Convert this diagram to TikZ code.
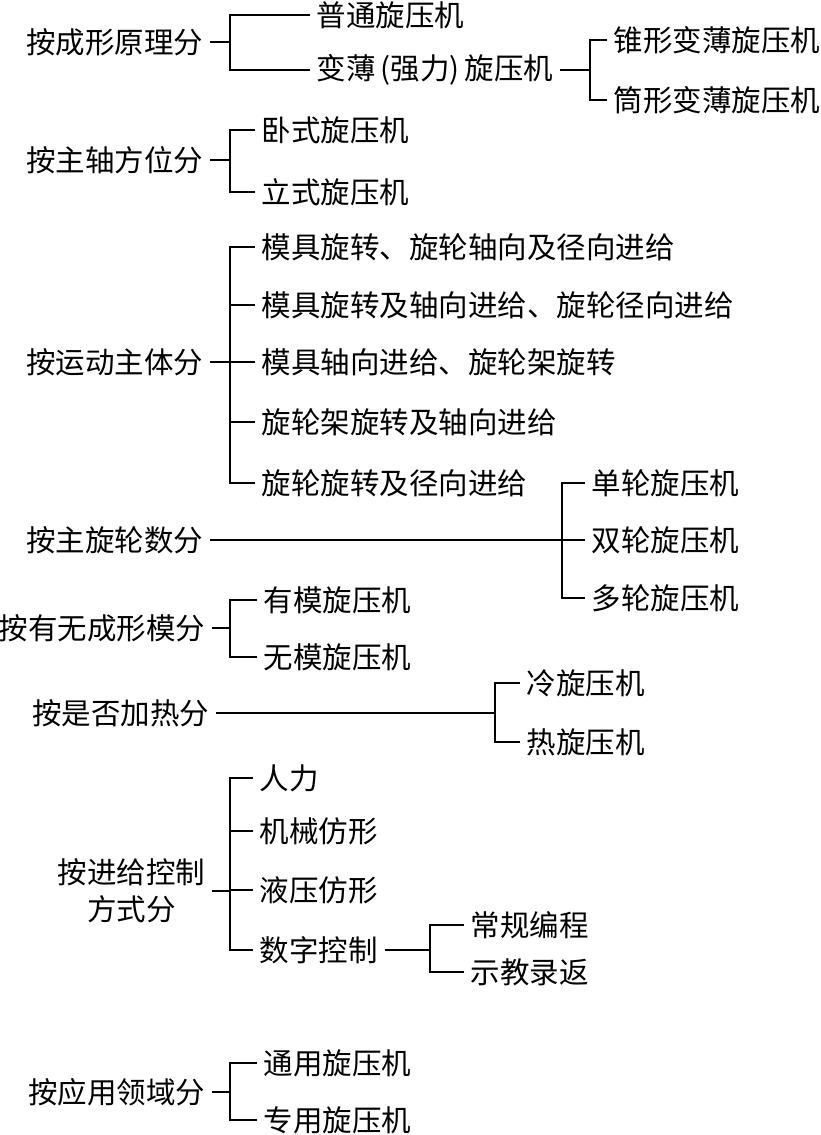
\documentclass[tikz,border=0pt]{standalone}
\usepackage{fontspec}
\newfontfamily\cjk{Noto Sans CJK SC}
\begin{document}
\begin{tikzpicture}[x=1pt, y=-1pt, line width=1.9pt,
        every node/.style={font=\cjk\fontsize{29.5}{37}\selectfont, inner xsep=6pt, inner ysep=2pt},
        root/.style={anchor=east},
        leaf/.style={anchor=west}]
    \useasboundingbox (0,0) rectangle (821,1135);
    % by forming principle
    \node[root] (r1) at (210,42) {按成形原理分};
    \coordinate (s1) at (230,42);
    \node[leaf] (c11) at (310,15) {普通旋压机};
    \node[leaf] (c12) at (310,70) {变薄\,(强力)\,旋压机};
    \coordinate (s12) at (590,70);
    \node[leaf] (c121) at (607,40) {锥形变薄旋压机};
    \node[leaf] (c122) at (607,100) {筒形变薄旋压机};
    \draw (r1.east) -- (s1);
    \draw (c11.west) -| (s1);
    \draw (c12.west) -| (s1);
    \draw (c12.east) -- (s12);
    \draw (c121.west) -| (s12);
    \draw (c122.west) -| (s12);
    % by spindle orientation
    \node[root] (r2) at (210,160) {按主轴方位分};
    \coordinate (s2) at (230,160);
    \node[leaf] (c21) at (255,130) {卧式旋压机};
    \node[leaf] (c22) at (255,192) {立式旋压机};
    \draw (r2.east) -- (s2);
    \draw (c21.west) -| (s2);
    \draw (c22.west) -| (s2);
    % by moving part
    \node[root] (r3) at (210,362) {按运动主体分};
    \coordinate (s3) at (230,362);
    \node[leaf] (c31) at (255,247) {模具旋转、旋轮轴向及径向进给};
    \node[leaf] (c32) at (255,305) {模具旋转及轴向进给、旋轮径向进给};
    \node[leaf] (c33) at (255,362) {模具轴向进给、旋轮架旋转};
    \node[leaf] (c34) at (255,422) {旋轮架旋转及轴向进给};
    \node[leaf] (c35) at (255,483) {旋轮旋转及径向进给};
    \draw (r3.east) -- (s3);
    \foreach \c in {c31,c32,c33,c34,c35}
        \draw (\c.west) -| (s3);
    % by number of rollers
    \node[root] (r4) at (210,540) {按主旋轮数分};
    \coordinate (s4) at (562,540);
    \node[leaf] (c41) at (585,483) {单轮旋压机};
    \node[leaf] (c42) at (585,540) {双轮旋压机};
    \node[leaf] (c43) at (585,598) {多轮旋压机};
    \draw (r4.east) -- (c42.west);
    \draw (c41.west) -| (s4);
    \draw (c43.west) -| (s4);
    % by mandrel
    \node[root] (r5) at (212,628) {按有无成形模分};
    \coordinate (s5) at (230,628);
    \node[leaf] (c51) at (257,600) {有模旋压机};
    \node[leaf] (c52) at (257,657) {无模旋压机};
    \draw (r5.east) -- (s5);
    \draw (c51.west) -| (s5);
    \draw (c52.west) -| (s5);
    % by heating
    \node[root] (r6) at (216,713) {按是否加热分};
    \coordinate (s6) at (495,713);
    \node[leaf] (c61) at (520,683) {冷旋压机};
    \node[leaf] (c62) at (520,742) {热旋压机};
    \draw (r6.east) -- (s6);
    \draw (c61.west) -| (s6);
    \draw (c62.west) -| (s6);
    % by feed control
    \node[root, align=center] (r7) at (212,891) {按进给控制\\方式分};
    \coordinate (s7) at (230,891);
    \node[leaf] (c71) at (253,778) {人力};
    \node[leaf] (c72) at (253,831) {机械仿形};
    \node[leaf] (c73) at (253,890) {液压仿形};
    \node[leaf] (c74) at (253,950) {数字控制};
    \coordinate (s74) at (430,950);
    \node[leaf] (c741) at (464,925) {常规编程};
    \node[leaf] (c742) at (464,972) {示教录返};
    \draw (r7.east) -- (s7);
    \foreach \c in {c71,c72,c73,c74}
        \draw (\c.west) -| (s7);
    \draw (c74.east) -- (s74);
    \draw (c741.west) -| (s74);
    \draw (c742.west) -| (s74);
    % by application
    \node[root] (r8) at (212,1092) {按应用领域分};
    \coordinate (s8) at (230,1092);
    \node[leaf] (c81) at (257,1063) {通用旋压机};
    \node[leaf] (c82) at (257,1120) {专用旋压机};
    \draw (r8.east) -- (s8);
    \draw (c81.west) -| (s8);
    \draw (c82.west) -| (s8);
\end{tikzpicture}
\end{document}
